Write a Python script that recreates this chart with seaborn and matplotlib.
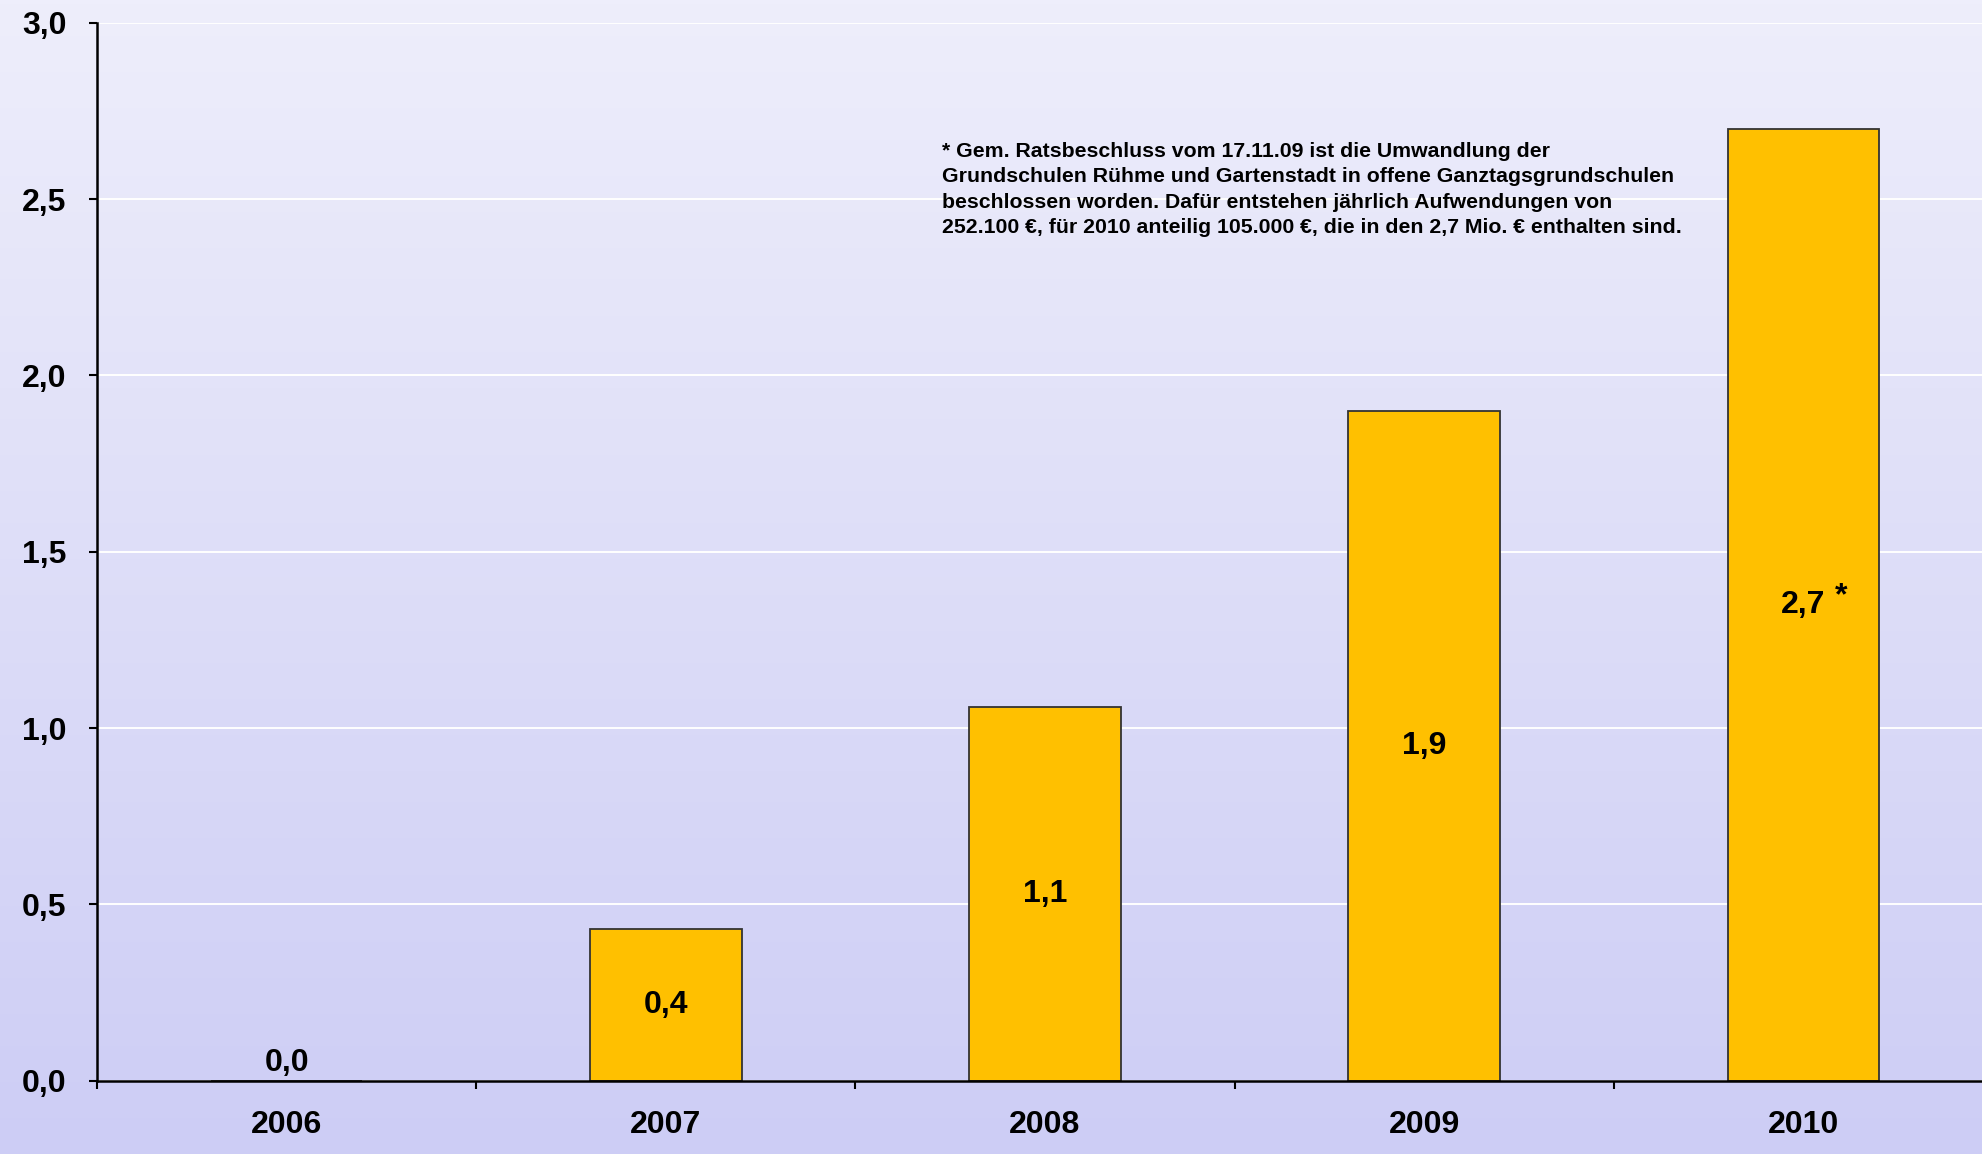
import numpy as np
import pandas as pd
import seaborn as sns
import matplotlib.pyplot as plt
from matplotlib.colors import LinearSegmentedColormap
from matplotlib.ticker import FuncFormatter, FixedLocator

# ------------------ DATA ------------------
years = ['2006', '2007', '2008', '2009', '2010']
values = [0.0, 0.43, 1.06, 1.90, 2.70]
value_labels = ['0,0', '0,4', '1,1', '1,9', '2,7']
y_ticks = [0.0, 0.5, 1.0, 1.5, 2.0, 2.5, 3.0]
note = ("* Gem. Ratsbeschluss vom 17.11.09 ist die Umwandlung der\n"
        "Grundschulen Rühme und Gartenstadt in offene Ganztagsgrundschulen\n"
        "beschlossen worden. Dafür entstehen jährlich Aufwendungen von\n"
        "252.100 €, für 2010 anteilig 105.000 €, die in den 2,7 Mio. € enthalten sind.")
# ------------------------------------------

FONT = ['Liberation Sans', 'DejaVu Sans']
BAR_COLOR = '#FFC000'
FS = 23

sns.set_style('white')
plt.rcParams['font.family'] = FONT
plt.rcParams['font.weight'] = 'bold'
plt.rcParams['text.color'] = 'black'
plt.rcParams['xtick.color'] = 'black'
plt.rcParams['ytick.color'] = 'black'
plt.rcParams['xtick.labelcolor'] = 'black'
plt.rcParams['ytick.labelcolor'] = 'black'

W, H = 1982, 1154
fig = plt.figure(figsize=(W / 100, H / 100), dpi=100)

# gradient background over the whole figure
bg = fig.add_axes([0, 0, 1, 1], zorder=0)
cmap = LinearSegmentedColormap.from_list('bg', ['#EEEEFB', '#CDCDF5'])
grad = np.linspace(0, 1, 256).reshape(-1, 1)
bg.imshow(grad, aspect='auto', cmap=cmap, extent=[0, 1, 0, 1], origin='upper')
bg.axis('off')

left, right, top, bottom = 97, 1993, 22.7, 1080.7
ax = fig.add_axes([left / W, 1 - bottom / H, (right - left) / W, (bottom - top) / H], zorder=1)
ax.set_facecolor('none')

df = pd.DataFrame({'Jahr': years, 'Wert': values})
sns.barplot(data=df, x='Jahr', y='Wert', color=BAR_COLOR, saturation=1,
            edgecolor='#333333', linewidth=1.3, width=0.4, ax=ax, zorder=3)

ax.set_xlim(-0.5, len(years) - 0.5)
ax.set_ylim(0, 3.0)
ax.set_xlabel('')
ax.set_ylabel('')

ax.yaxis.set_major_locator(FixedLocator(y_ticks))
ax.yaxis.set_major_formatter(FuncFormatter(lambda v, p: f'{v:.1f}'.replace('.', ',')))
ax.yaxis.grid(True, color='white', linewidth=1.4, zorder=0)
ax.set_axisbelow(True)

ax.set_xticks(np.arange(-0.5, len(years)), minor=True)
ax.tick_params(axis='x', which='major', bottom=True, length=0, pad=21, labelsize=FS)
ax.tick_params(axis='x', which='minor', bottom=True, length=6, width=1.5,
               direction='out', color='black')
ax.tick_params(axis='y', which='major', left=True, length=6, width=1.5, direction='out',
               color='black', pad=16, labelsize=FS)
for lab in ax.get_xticklabels() + ax.get_yticklabels():
    lab.set_fontweight('bold')

for side in ['top', 'right']:
    ax.spines[side].set_visible(False)
for side in ['left', 'bottom']:
    ax.spines[side].set_color('black')
    ax.spines[side].set_linewidth(1.8)
    ax.spines[side].set_zorder(4)

# value labels in the middle of the bars, zero bar label just above the axis
for i, (v, lab) in enumerate(zip(values, value_labels)):
    if v == 0:
        ax.annotate(lab, (i, 0), xytext=(0, 2), textcoords='offset points',
                    ha='center', va='bottom', fontsize=FS, fontweight='bold', zorder=5)
    else:
        ax.text(i, v / 2, lab, ha='center', va='center', fontsize=FS,
                fontweight='bold', zorder=5)

# asterisk next to the 2010 value
ax.annotate('*', (len(years) - 1, values[-1] / 2), xytext=(27, 6),
            textcoords='offset points', ha='center', va='center',
            fontsize=FS, fontweight='bold', zorder=5)

fig.text(942 / W, 1 - 142 / H, note, ha='left', va='top', fontsize=15.3,
         fontweight='bold', linespacing=1.43, zorder=5)

fig.savefig('out.png', dpi=100)
